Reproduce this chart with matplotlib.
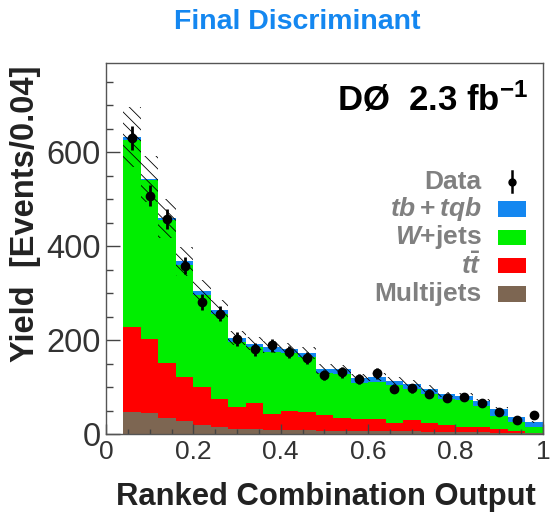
import numpy as np
import matplotlib
matplotlib.use("Agg")
import matplotlib.pyplot as plt
from matplotlib.patches import Rectangle
from matplotlib.ticker import MultipleLocator, FuncFormatter

# Ranked combination output, 24 bins of width 0.04 starting at 0.04
edges = np.round(np.linspace(0.04, 1.0, 25), 2)

# Expected yields per bin for each process (events / 0.04)
multijets = [47, 46, 34, 28, 20, 16, 11, 11, 9, 9, 9, 8, 8, 7, 7, 6, 6, 5, 5, 4, 4, 3, 3, 2]
ttbar = [181, 157, 118, 93, 80, 59, 47, 56, 35, 41, 38, 33, 27, 25, 25, 19, 24, 18, 15, 12, 11, 8, 4, 1]
wjets = [399, 337, 303, 240, 196, 181, 138, 118, 132, 123, 117, 89, 94, 78, 80, 79, 67, 63, 55, 56, 45, 28, 19, 12]
signal = [6, 4, 5, 7, 8, 9, 9, 8, 9, 9, 9, 9, 9, 9, 10, 9, 11, 11, 10, 10, 10, 15, 10, 11]

# Observed events
data = [631, 508, 458, 359, 282, 256, 203, 181, 189, 175, 162, 126, 132, 118, 130, 97, 98, 86, 78, 79, 66, 48, 31, 40]

# Relative systematic uncertainty on the total prediction
syst_frac = [0.10, 0.09, 0.09, 0.085, 0.08, 0.075, 0.07, 0.07, 0.07, 0.07, 0.07, 0.07,
             0.07, 0.07, 0.07, 0.07, 0.07, 0.07, 0.07, 0.07, 0.07, 0.07, 0.07, 0.07]

process_labels = ["Multijets", r"$t\bar{t}$", r"$W$+jets", r"$tb+tqb$"]
process_colors = ["#7d6652", "#ff0000", "#00ee00", "#1487f0"]

plt.rcParams["font.family"] = ["Liberation Sans", "DejaVu Sans"]
plt.rcParams["mathtext.fontset"] = "custom"
plt.rcParams["mathtext.rm"] = "Liberation Sans:bold"
plt.rcParams["mathtext.it"] = "Liberation Sans:bold:italic"
plt.rcParams["mathtext.bf"] = "Liberation Sans:bold"
plt.rcParams["hatch.linewidth"] = 0.6

fig = plt.figure(figsize=(5.5, 5.12), dpi=100)
ax = fig.add_axes([0.1927, 0.1518, 0.7943, 0.7252])

# stacked histogram, bottom to top
base = np.zeros(len(data))
for vals, col in zip([multijets, ttbar, wjets, signal], process_colors):
    top = base + np.array(vals, dtype=float)
    ax.stairs(top, edges, baseline=base, fill=True, color=col, lw=0)
    base = top

# hatched uncertainty band around the total
frac = np.array(syst_frac)
ax.stairs(base * (1 + frac), edges, baseline=base * (1 - frac), fill=True,
          facecolor="none", edgecolor="black", hatch="\\\\\\", lw=0)

centers = 0.5 * (edges[:-1] + edges[1:])
ax.errorbar(centers, data, yerr=np.sqrt(data), fmt="o", color="black",
            ms=6, elinewidth=2, capsize=0, zorder=5)

ax.set_xlim(0, 1)
ax.set_ylim(0, 790)
ax.xaxis.set_major_locator(MultipleLocator(0.2))
ax.xaxis.set_minor_locator(MultipleLocator(0.05))
ax.yaxis.set_major_locator(MultipleLocator(200))
ax.yaxis.set_minor_locator(MultipleLocator(50))
ax.xaxis.set_major_formatter(FuncFormatter(lambda v, p: f"{v:g}"))
ax.tick_params(which="both", direction="in", top=False, right=False, color="#444444")
ax.tick_params(axis="x", which="major", length=7, width=1, labelsize=19, pad=4, labelcolor="#333333")
ax.tick_params(axis="x", which="minor", length=3.5, width=1)
ax.tick_params(axis="y", which="major", length=10, width=1, labelsize=23.5, pad=4, labelcolor="#333333")
ax.tick_params(axis="y", which="minor", length=5, width=1)
for sp in ax.spines.values():
    sp.set_color("#555555")
    sp.set_linewidth(1)

ax.set_xlabel("Ranked Combination Output", fontsize=22.3, fontweight="bold",
              color="#222222", ha="right", va="center")
ax.xaxis.set_label_coords(0.984, -0.169)
ax.set_ylabel("Yield  [Events/0.04]", fontsize=23.5, fontweight="bold",
              color="#222222", ha="right", va="center")
ax.yaxis.set_label_coords(-0.185, 0.992)

fig.text(0.54, 0.957, "Final Discriminant", fontsize=20.5, fontweight="bold",
         color="#1487f0", ha="center", va="center")

ax.text(0.966, 0.871, r"DØ  2.3 fb$^{-1}$", transform=ax.transAxes, fontsize=25,
        fontweight="bold", color="black", ha="right", va="baseline")

# legend: labels right-aligned, symbols to their right
text_x, sym_x = 0.860, 0.929
row_y = [0.680, 0.606, 0.530, 0.455, 0.378]
ax.text(text_x, row_y[0], "Data", transform=ax.transAxes, fontsize=19,
        fontweight="bold", color="#808080", ha="right", va="center")
ax.plot([sym_x, sym_x], [row_y[0] - 0.028, row_y[0] + 0.028], color="black",
        lw=1.8, transform=ax.transAxes, clip_on=False)
ax.plot([sym_x], [row_y[0]], "o", color="black", ms=5, transform=ax.transAxes, clip_on=False)
for y, lab, col in zip(row_y[1:], process_labels[::-1], process_colors[::-1]):
    ax.text(text_x, y, lab, transform=ax.transAxes, fontsize=19,
            fontweight="bold", color="#808080", ha="right", va="center")
    ax.add_patch(Rectangle((sym_x - 0.032, y - 0.021), 0.064, 0.042,
                           transform=ax.transAxes, color=col, lw=0))

fig.savefig("out.png", dpi=100)
